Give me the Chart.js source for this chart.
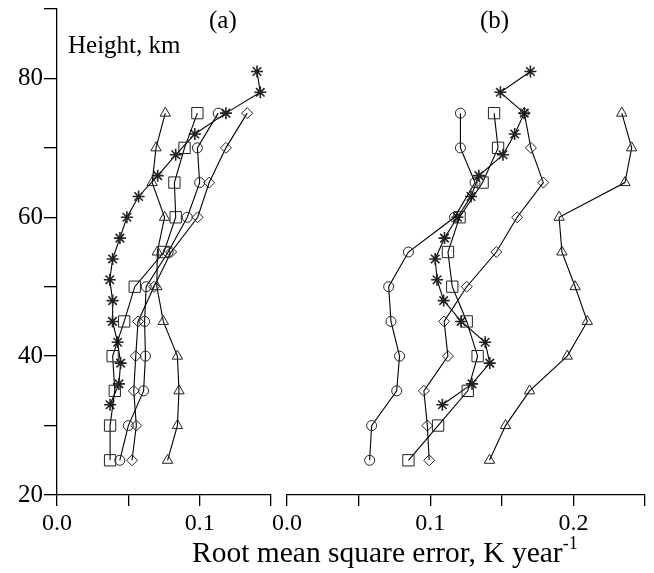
<!DOCTYPE html>
<html>
<head>
<meta charset="utf-8">
<script src="https://cdn.jsdelivr.net/npm/chart.js@4.4.0/dist/chart.umd.min.js"></script>
<style>
  body { margin: 0; background: #fff; }
  #wrap { position: relative; width: 654px; height: 573px; font-family: "Liberation Serif", serif; color: #000; }
  .box { position: absolute; top: 0; }
  .lbl { position: absolute; font-size: 25px; line-height: 1; white-space: nowrap; }
  .xt { font-size: 29.5px; }
  sup { font-size: 18px; vertical-align: 13px; line-height: 0; }
</style>
</head>
<body>
<div id="wrap">
  <div class="box" style="left:0;"><canvas id="chartA" width="280" height="573"></canvas></div>
  <div class="box" style="left:262px;"><canvas id="chartB" width="392" height="573"></canvas></div>
  <div class="lbl" style="left:209px; top:7px;">(a)</div>
  <div class="lbl" style="left:480px; top:7px;">(b)</div>
  <div class="lbl" style="left:68px; top:32px;">Height, km</div>
  <div class="lbl xt" style="left:192px; top:538px;">Root mean square error, K year<sup>-1</sup></div>
</div>
<script>
// heights (km) shared by most profiles, the star profiles are on a 3 km grid
var heights = [25, 30, 35, 40, 45, 50, 55, 60, 65, 70, 75];
var starHeights = [33, 36, 39, 42, 45, 48, 51, 54, 57, 60, 63, 66, 69, 72, 75, 78, 81];

// panel (a)
var triA     = [0.0775, 0.0844, 0.0855, 0.0844, 0.0745, 0.0700, 0.0703, 0.0754, 0.0667, 0.0694, 0.0759];
var squareA  = [0.0372, 0.0372, 0.0405, 0.0390, 0.0471, 0.0545, 0.0750, 0.0832, 0.0823, 0.0894, 0.0984];
var circleA  = [0.0440, 0.0500, 0.0607, 0.0620, 0.0614, 0.0625, 0.0779, 0.0913, 0.1000, 0.0984, 0.1130];
var diamondA = [0.0526, 0.0556, 0.0538, 0.0552, 0.0568, 0.0680, 0.0800, 0.0986, 0.1067, 0.1184, 0.1333];
var starA    = [0.0372, 0.0434, 0.0446, 0.0425, 0.0389, 0.0390, 0.0370, 0.0390, 0.0441, 0.0490, 0.0572,
                0.0706, 0.0832, 0.0966, 0.1184, 0.1425, 0.1402];

// panel (b)
var triB     = [0.1414, 0.1526, 0.1694, 0.1957, 0.2097, 0.2012, 0.1920, 0.1900, 0.2360, 0.2407, 0.2338];
var squareB  = [0.0848, 0.1055, 0.1262, 0.1331, 0.1255, 0.1154, 0.1124, 0.1205, 0.1366, 0.1474, 0.1446];
var circleB  = [0.0577, 0.0591, 0.0766, 0.0786, 0.0726, 0.0710, 0.0848, 0.1170, 0.1313, 0.1211, 0.1211];
var diamondB = [0.0993, 0.0980, 0.0956, 0.1124, 0.1097, 0.1255, 0.1462, 0.1607, 0.1790, 0.1703, 0.1657];
var starB    = [0.1085, 0.1292, 0.1416, 0.1384, 0.1216, 0.1094, 0.1048, 0.1035, 0.1100, 0.1190, 0.1285,
                0.1340, 0.1508, 0.1590, 0.1657, 0.1490, 0.1700];

var yTicks = [20, 40, 60, 80];
var xTicksA = [0.0, 0.1];
var xTicksB = [0.0, 0.1, 0.2];

var FONT = "'Liberation Serif', serif";

function profile(xs, hs, style, r, bw) {
  return {
    data: hs.map(function (h, i) { return { x: xs[i], y: h }; }),
    showLine: true,
    borderColor: '#000',
    borderWidth: 1.1,
    pointStyle: style,
    pointRadius: r,
    pointBorderColor: '#222',
    pointBorderWidth: bw,
    pointBackgroundColor: 'rgba(0,0,0,0)'
  };
}

function makeOptions(xmax, labels, showY, pad) {
  return {
    responsive: false,
    animation: false,
    layout: { padding: pad },
    plugins: { legend: { display: false }, tooltip: { enabled: false } },
    scales: {
      x: {
        type: 'linear', min: 0, max: xmax,
        afterFit: function (s) { s.height = 78; s.paddingLeft = 0; s.paddingRight = 0; },
        border: { display: true, color: '#000', width: 1.3 },
        grid: { drawOnChartArea: false, drawTicks: true, tickLength: 11, color: '#000', lineWidth: 1.3 },
        ticks: {
          stepSize: 0.05, autoSkip: false, maxRotation: 0, padding: 3,
          color: '#000', font: { family: FONT, size: 24 },
          callback: function (v) {
            for (var i = 0; i < labels.length; i++) {
              if (Math.abs(v - labels[i]) < 1e-9) return labels[i].toFixed(1);
            }
            return '';
          }
        }
      },
      y: {
        type: 'linear', min: 20, max: 90, display: showY,
        afterFit: function (s) { s.width = showY ? 57 : 0; s.paddingTop = 0; s.paddingBottom = 0; },
        border: { display: true, color: '#000', width: 1.3 },
        grid: { drawOnChartArea: false, drawTicks: true, tickLength: 13, color: '#000', lineWidth: 1.3 },
        ticks: {
          stepSize: 10, autoSkip: false, padding: 1,
          color: '#000', font: { family: FONT, size: 25 },
          callback: function (v) { return yTicks.indexOf(v) >= 0 ? String(v) : ''; }
        }
      }
    }
  };
}

new Chart(document.getElementById('chartA'), {
  type: 'scatter',
  data: {
    datasets: [
      profile(triA, heights, 'triangle', 6, 1),
      profile(squareA, heights, 'rect', 8, 1),
      profile(circleA, heights, 'circle', 5, 1),
      profile(diamondA, heights, 'rectRot', 5.5, 1),
      profile(starA, starHeights, 'star', 6, 1.6)
    ]
  },
  options: makeOptions(0.15, xTicksA, true, { top: 8, right: 6, left: 0, bottom: 0 })
});

new Chart(document.getElementById('chartB'), {
  type: 'scatter',
  data: {
    datasets: [
      profile(triB, heights, 'triangle', 6, 1),
      profile(squareB, heights, 'rect', 8, 1),
      profile(circleB, heights, 'circle', 5, 1),
      profile(diamondB, heights, 'rectRot', 5.5, 1),
      profile(starB, starHeights, 'star', 6, 1.6)
    ]
  },
  options: makeOptions(0.25, xTicksB, false, { top: 8, right: 6, left: 25, bottom: 0 })
});
</script>
</body>
</html>
